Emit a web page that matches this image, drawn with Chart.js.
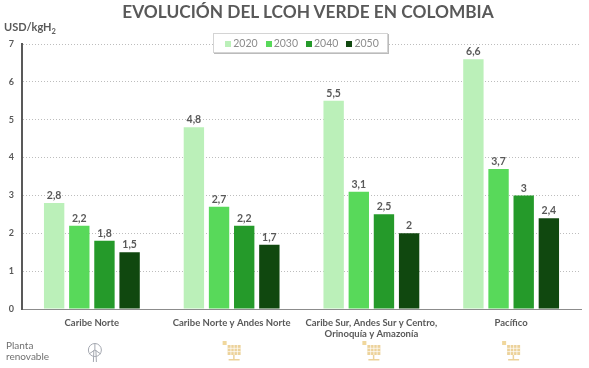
<!doctype html>
<html lang="es">
<head>
  <meta charset="utf-8">
  <title>Evolución del LCOH verde en Colombia</title>
  <script src="https://cdn.jsdelivr.net/npm/chart.js@4/dist/chart.umd.min.js"></script>
  <style>
    html, body { margin: 0; padding: 0; background: #fff; }
    body { width: 589px; height: 368px; position: relative; overflow: hidden; font-family: Lato, sans-serif; color: #595959; }
    canvas { position: absolute; left: 0; top: 0; }
    .title { position: absolute; left: 0; top: 0; width: 616px; text-align: center; font-size: 17.3px; font-weight: bold; line-height: 24px; white-space: nowrap; }
    .unit { position: absolute; left: 4px; top: 20px; font-size: 11px; font-weight: bold; }
    .unit sub { font-size: 7.5px; line-height: 0; }
    .legend { position: absolute; left: 213px; top: 33px; width: 175px; height: 20px; box-sizing: border-box; padding-left: 3px; background: #fff; border: 1px solid #d4d4d4; box-shadow: 1px 1px 0 #bbb; display: flex; justify-content: center; align-items: center; gap: 8px; font-size: 10.5px; color: #8c8c8c; }
    .legend i { display: inline-block; width: 6px; height: 6px; margin-right: 2px; }
    .plant { position: absolute; left: 6px; top: 340px; font-size: 10px; line-height: 11px; color: #707070; }
  </style>
</head>
<body>
  <canvas id="myChart" width="589" height="368"></canvas>
  <div class="title" id="title"></div>
  <div class="unit">USD/kgH<sub>2</sub></div>
  <div class="legend" id="legend"></div>
  <div class="plant">Planta<br>renovable</div>

  <script>
    const titleText = 'EVOLUCIÓN DEL LCOH VERDE EN COLOMBIA';
    const regions = ['Caribe Norte', 'Caribe Norte y Andes Norte', ['Caribe Sur, Andes Sur y Centro,', 'Orinoquía y Amazonía'], 'Pacífico'];
    const years = ['2020', '2030', '2040', '2050'];
    const colors = ['#bbf0b9', '#58d95a', '#259a2a', '#10480f'];
    const v2020 = [2.8, 4.8, 5.5, 6.6];
    const v2030 = [2.2, 2.7, 3.1, 3.7];
    const v2040 = [1.8, 2.2, 2.5, 3];
    const v2050 = [1.5, 1.7, 2, 2.4];
    const plants = ['wind', 'solar', 'solar', 'solar'];
    const series = [v2020, v2030, v2040, v2050];

    document.getElementById('title').textContent = titleText;
    document.getElementById('legend').innerHTML = years.map((y, i) =>
      '<span><i style="background:' + colors[i] + '"></i>' + y + '</span>').join('');

    // value above each bar, with a decimal comma
    const barLabels = {
      id: 'barLabels',
      afterDatasetsDraw(chart) {
        const ctx = chart.ctx;
        ctx.save();
        ctx.font = 'bold 10.5px Lato';
        ctx.fillStyle = '#595959';
        ctx.textAlign = 'center';
        ctx.textBaseline = 'bottom';
        chart.data.datasets.forEach((ds, i) => {
          chart.getDatasetMeta(i).data.forEach((bar, j) => {
            ctx.fillText(String(ds.data[j]).replace('.', ','), bar.x, bar.y - 2);
          });
        });
        ctx.restore();
      }
    };

    function drawWind(ctx, x, y) {
      ctx.strokeStyle = '#a4a8b0';
      ctx.lineWidth = 1;
      ctx.beginPath();
      ctx.arc(x, y - 2, 6.5, 0, Math.PI * 2);
      ctx.moveTo(x, y - 9); ctx.lineTo(x, y - 2);
      ctx.moveTo(x, y - 2); ctx.lineTo(x - 6, y + 2);
      ctx.moveTo(x, y - 2); ctx.lineTo(x + 6, y + 2);
      ctx.moveTo(x - 1, y - 2); ctx.lineTo(x - 1.5, y + 10);
      ctx.moveTo(x + 1, y - 2); ctx.lineTo(x + 1.5, y + 10);
      ctx.stroke();
    }

    function drawSolar(ctx, x, y) {
      ctx.fillStyle = '#f0d79c';
      ctx.fillRect(x - 11, y - 10, 4, 4);
      ctx.fillStyle = '#ecd29a';
      ctx.fillRect(x - 6, y - 6, 13, 10);
      ctx.fillRect(x - 0.5, y + 4, 1.5, 4);
      ctx.fillRect(x - 5, y + 8, 11, 1.5);
      ctx.strokeStyle = '#fff';
      ctx.lineWidth = 0.7;
      ctx.beginPath();
      for (let k = 1; k < 4; k++) { ctx.moveTo(x - 6 + k * 3.25, y - 6); ctx.lineTo(x - 6 + k * 3.25, y + 4); }
      for (let k = 1; k < 3; k++) { ctx.moveTo(x - 6, y - 6 + k * 3.3); ctx.lineTo(x + 7, y - 6 + k * 3.3); }
      ctx.stroke();
    }

    const plantIcons = {
      id: 'plantIcons',
      afterDraw(chart) {
        const ctx = chart.ctx;
        ctx.save();
        plants.forEach((p, i) => {
          const x = chart.scales.x.getPixelForValue(i);
          if (p === 'wind') drawWind(ctx, x + 3, 352);
          else drawSolar(ctx, x + 2, 351);
        });
        ctx.restore();
      }
    };

    new Chart(document.getElementById('myChart').getContext('2d'), {
      type: 'bar',
      data: {
        labels: regions,
        datasets: series.map((s, i) => ({
          label: years[i],
          data: s,
          backgroundColor: colors[i],
          barPercentage: 0.81,
          categoryPercentage: 0.72
        }))
      },
      options: {
        responsive: false,
        animation: false,
        layout: { padding: { top: 44, right: 8, left: 0, bottom: 0 } },
        plugins: { legend: { display: false }, title: { display: false }, tooltip: { enabled: false } },
        scales: {
          x: {
            afterFit(axis) { axis.height = 59; },
            grid: { display: false },
            border: { color: '#8c8c8c', width: 1 },
            ticks: { color: '#595959', font: { family: 'Lato', size: 9.5, weight: 'bold' }, maxRotation: 0, autoSkip: false, padding: 0 }
          },
          y: {
            min: 0,
            max: 7,
            afterFit(axis) { axis.width = 22; },
            grid: { color: '#bdbdbd', lineWidth: 1, drawTicks: false },
            border: { color: '#595959', width: 2, dash: [1, 2] },
            ticks: { stepSize: 1, color: '#595959', font: { family: 'Lato', size: 9, weight: 'bold' }, padding: 8 }
          }
        }
      },
      plugins: [barLabels, plantIcons]
    });
  </script>
</body>
</html>
